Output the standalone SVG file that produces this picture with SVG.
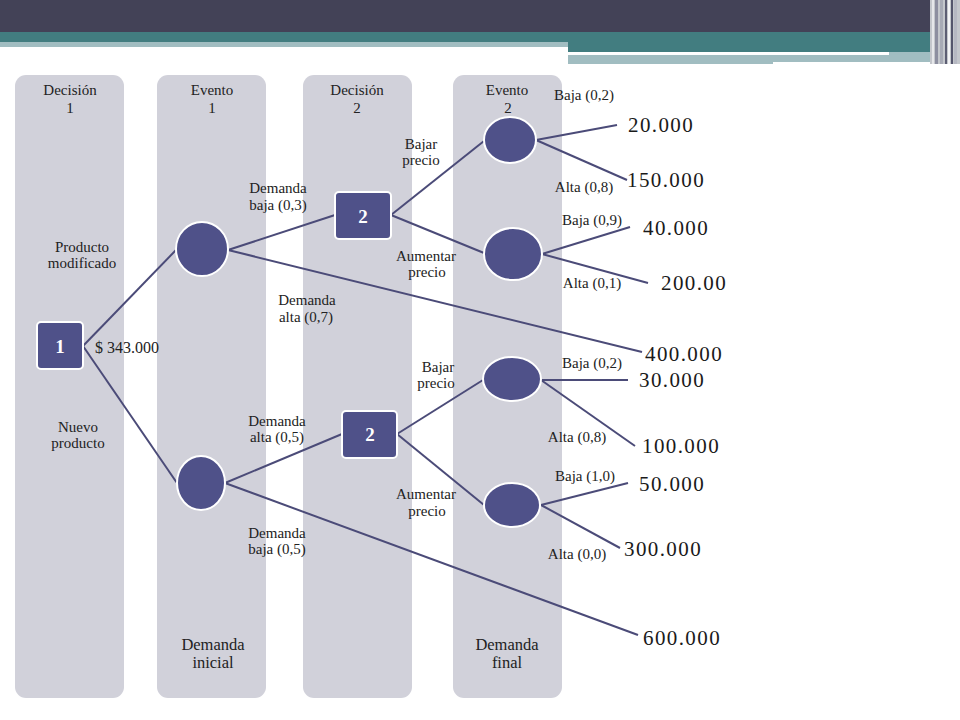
<svg xmlns="http://www.w3.org/2000/svg" width="960" height="720" viewBox="0 0 960 720">
<style>
.lane{fill:#d1d1da}
.t{font-family:"Liberation Serif",serif;font-size:15px;fill:#222;text-anchor:middle;dominant-baseline:central}
.tb{font-family:"Liberation Serif",serif;font-size:16.5px;fill:#222;text-anchor:middle;dominant-baseline:central}
.v{font-family:"Liberation Serif",serif;font-size:21px;letter-spacing:1.4px;fill:#1a1a1a;dominant-baseline:central}
.n{fill:#4f5189;stroke:#fff;stroke-width:2}
.nt{font-family:"Liberation Serif",serif;font-size:19px;font-weight:bold;fill:#fff;text-anchor:middle;dominant-baseline:central}
.c line{stroke:#4b4b78;stroke-width:2}
</style>
<rect width="960" height="720" fill="#fff"/>
<g id="header">
<rect x="0" y="0" width="960" height="32" fill="#434257"/>
<rect x="0" y="32" width="960" height="10" fill="#427d80"/>
<rect x="0" y="42" width="568" height="5" fill="#a1bdc1"/>
<rect x="568" y="42" width="372" height="10" fill="#427d80"/>
<rect x="568" y="52" width="372" height="10" fill="#a1bdc1"/>
<rect x="568" y="52" width="321" height="3" fill="#fff"/>
<rect x="568" y="62" width="205" height="2" fill="#a1bdc1"/>
<rect x="930" y="0" width="30" height="64" fill="#c4c7cc"/>
<rect x="932" y="0" width="2" height="64" fill="#e6e7ea"/>
<rect x="935" y="0" width="3" height="64" fill="#8d8fa0"/>
<rect x="940" y="0" width="3" height="64" fill="#a8abb6"/>
<rect x="945" y="0" width="2" height="64" fill="#5d5e73"/>
<rect x="948" y="0" width="2" height="64" fill="#f4f4f6"/>
<rect x="951" y="0" width="2" height="64" fill="#55566c"/>
<rect x="954" y="0" width="3" height="64" fill="#b6b8c2"/>
</g>
<g id="lanes">
<rect class="lane" x="15" y="75" width="109" height="623" rx="11"/>
<rect class="lane" x="157" y="75" width="109" height="623" rx="11"/>
<rect class="lane" x="303" y="75" width="109" height="623" rx="11"/>
<rect class="lane" x="453" y="75" width="109" height="623" rx="11"/>
<text class="t" x="70" y="90">Decisión</text><text class="t" x="70" y="108">1</text>
<text class="t" x="212" y="90">Evento</text><text class="t" x="212" y="108">1</text>
<text class="t" x="357" y="90">Decisión</text><text class="t" x="357" y="108">2</text>
<text class="t" x="507" y="90">Evento</text><text class="t" x="508" y="108">2</text>
<text class="tb" x="213" y="644">Demanda</text><text class="tb" x="213" y="662">inicial</text>
<text class="tb" x="507" y="644">Demanda</text><text class="tb" x="507" y="662">final</text>
</g>
<g id="connectors" class="c">
<line x1="83" y1="346" x2="176" y2="250"/>
<line x1="83" y1="346" x2="177" y2="483"/>
<line x1="228" y1="250" x2="335" y2="215"/>
<line x1="228" y1="250" x2="642" y2="352"/>
<line x1="391" y1="215" x2="484" y2="141"/>
<line x1="391" y1="215" x2="484" y2="253"/>
<line x1="536" y1="140" x2="617" y2="125"/>
<line x1="536" y1="140" x2="627" y2="180"/>
<line x1="542" y1="254" x2="630" y2="227"/>
<line x1="542" y1="254" x2="648" y2="283"/>
<line x1="225" y1="483" x2="342" y2="434"/>
<line x1="225" y1="483" x2="638" y2="635"/>
<line x1="397" y1="434" x2="483" y2="380"/>
<line x1="397" y1="434" x2="484" y2="505"/>
<line x1="541" y1="380" x2="628" y2="380"/>
<line x1="541" y1="380" x2="635" y2="446"/>
<line x1="541" y1="505" x2="628" y2="483"/>
<line x1="541" y1="505" x2="620" y2="548"/>
</g>
<g id="d1"><rect class="n" x="37" y="322" width="46" height="47" rx="4"/><text class="nt" x="60" y="346">1</text></g>
<g id="e1a"><ellipse class="n" cx="202" cy="249" rx="26" ry="27"/></g>
<g id="e1b"><ellipse class="n" cx="201" cy="483" rx="24" ry="27"/></g>
<g id="d2a"><rect class="n" x="335" y="192" width="56" height="47" rx="4"/><text class="nt" x="363" y="216">2</text></g>
<g id="d2b"><rect class="n" x="342" y="411" width="55" height="47" rx="4"/><text class="nt" x="370" y="434">2</text></g>
<g id="e2a"><ellipse class="n" cx="510" cy="140" rx="26" ry="23"/></g>
<g id="e2b"><ellipse class="n" cx="513" cy="254" rx="29" ry="26"/></g>
<g id="e2c"><ellipse class="n" cx="512" cy="379" rx="29" ry="22"/></g>
<g id="e2d"><ellipse class="n" cx="512" cy="505" rx="28" ry="22"/></g>
<g id="labels">
<text class="t" x="82" y="247">Producto</text><text class="t" x="82" y="263">modificado</text>
<text class="t" x="95" y="347" style="text-anchor:start;font-size:16px">$ 343.000</text>
<text class="t" x="78" y="427">Nuevo</text><text class="t" x="78" y="443">producto</text>
<text class="t" x="278" y="188">Demanda</text><text class="t" x="278" y="205">baja (0,3)</text>
<text class="t" x="307" y="300">Demanda</text><text class="t" x="306" y="317">alta (0,7)</text>
<text class="t" x="277" y="421">Demanda</text><text class="t" x="277" y="437">alta (0,5)</text>
<text class="t" x="277" y="533">Demanda</text><text class="t" x="277" y="549">baja (0,5)</text>
<text class="t" x="421" y="144">Bajar</text><text class="t" x="421" y="160">precio</text>
<text class="t" x="426" y="256">Aumentar</text><text class="t" x="427" y="272">precio</text>
<text class="t" x="438" y="367">Bajar</text><text class="t" x="436" y="383">precio</text>
<text class="t" x="426" y="494">Aumentar</text><text class="t" x="427" y="511">precio</text>
<text class="t" x="584" y="95">Baja (0,2)</text>
<text class="t" x="584" y="187">Alta (0,8)</text>
<text class="t" x="592" y="220">Baja (0,9)</text>
<text class="t" x="592" y="283">Alta (0,1)</text>
<text class="t" x="592" y="363">Baja (0,2)</text>
<text class="t" x="577" y="437">Alta (0,8)</text>
<text class="t" x="585" y="476">Baja (1,0)</text>
<text class="t" x="577" y="554">Alta (0,0)</text>
</g>
<g id="values">
<text class="v" x="628" y="125">20.000</text>
<text class="v" x="627" y="180">150.000</text>
<text class="v" x="643" y="228">40.000</text>
<text class="v" x="661" y="283">200.00</text>
<text class="v" x="645" y="354">400.000</text>
<text class="v" x="639" y="380">30.000</text>
<text class="v" x="642" y="446">100.000</text>
<text class="v" x="639" y="484">50.000</text>
<text class="v" x="624" y="549">300.000</text>
<text class="v" x="643" y="638">600.000</text>
</g>
</svg>
